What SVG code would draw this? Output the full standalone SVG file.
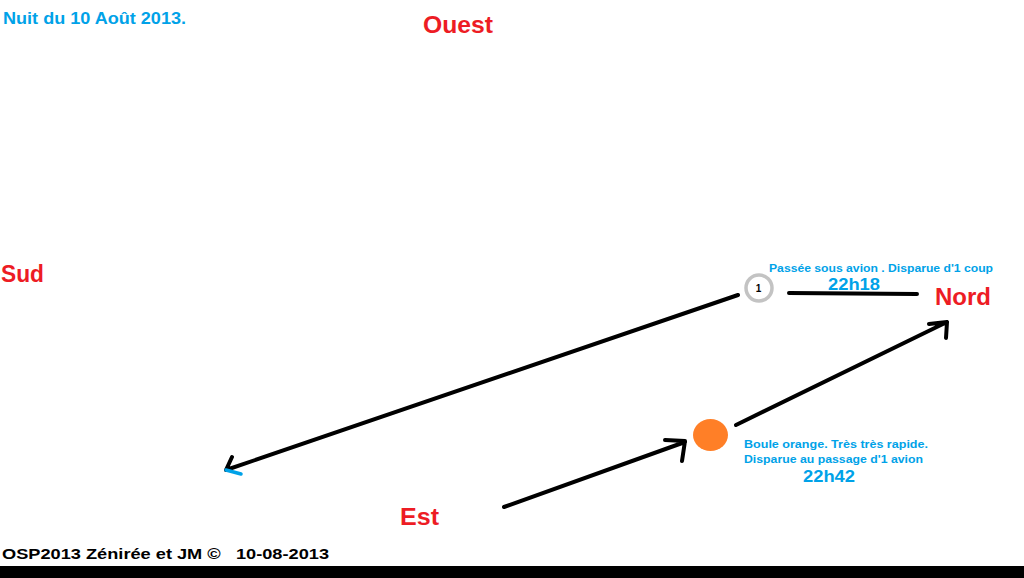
<svg xmlns="http://www.w3.org/2000/svg" width="1024" height="578" viewBox="0 0 1024 578">
<style>
text{font-family:"Liberation Sans",Arial,sans-serif;font-weight:bold}
.red{fill:#ed1c24;font-size:23px}
.blue{fill:#00a2e8}
.ln{stroke:#000;stroke-width:4;fill:none;stroke-linecap:round;stroke-linejoin:round}
</style>
<rect width="1024" height="578" fill="#fff"/>
<text x="3" y="24" class="blue" font-size="16" textLength="183" lengthAdjust="spacingAndGlyphs">Nuit du 10 Août 2013.</text>
<g id="ouest"><text x="423" y="33" class="red" textLength="70" lengthAdjust="spacingAndGlyphs">Ouest</text></g>
<g id="sud"><text x="1" y="282" class="red" textLength="43" lengthAdjust="spacingAndGlyphs">Sud</text></g>
<g id="nord"><text x="935" y="305" class="red" textLength="56" lengthAdjust="spacingAndGlyphs">Nord</text></g>
<g id="est"><text x="400" y="525" class="red" textLength="39" lengthAdjust="spacingAndGlyphs">Est</text></g>
<g id="obj1">
<circle cx="759" cy="288" r="13" fill="#fff" stroke="#c3c3c3" stroke-width="3.5"/>
<text x="758.5" y="292" text-anchor="middle" font-size="10" fill="#000">1</text>
<text x="769" y="271.5" class="blue" font-size="11.5" textLength="224" lengthAdjust="spacingAndGlyphs">Passée sous avion . Disparue d'1 coup</text>
<text x="828" y="290" class="blue" font-size="16" textLength="52" lengthAdjust="spacingAndGlyphs">22h18</text>
</g>
<g id="obj2">
<ellipse cx="710.5" cy="435" rx="17.5" ry="16" fill="#ff7f27"/>
<text x="744" y="447.5" class="blue" font-size="11.5" textLength="184" lengthAdjust="spacingAndGlyphs">Boule orange. Très très rapide.</text>
<text x="744" y="462.5" class="blue" font-size="11.5" textLength="179" lengthAdjust="spacingAndGlyphs">Disparue au passage d'1 avion</text>
<text x="803" y="481.5" class="blue" font-size="16" textLength="52" lengthAdjust="spacingAndGlyphs">22h42</text>
</g>
<g id="connectors">
<path class="ln" d="M504 507 L685 442 M665 440 L685 441 L682 461"/>
<path class="ln" d="M736 425 L947 322 M929 324 L947 322 L946 338"/>
<path class="ln" d="M738 295 L226 470 L232 457"/>
<path d="M226 470 L241 474" stroke="#00a2e8" stroke-width="3.5" stroke-linecap="round"/>
<path class="ln" d="M789 293 L917 294"/>
</g>
<text x="2" y="559" font-size="14.5" fill="#000" xml:space="preserve" textLength="327" lengthAdjust="spacingAndGlyphs">OSP2013 Zénirée et JM ©   10-08-2013</text>
<rect x="0" y="566" width="1024" height="12" fill="#000"/>
</svg>
